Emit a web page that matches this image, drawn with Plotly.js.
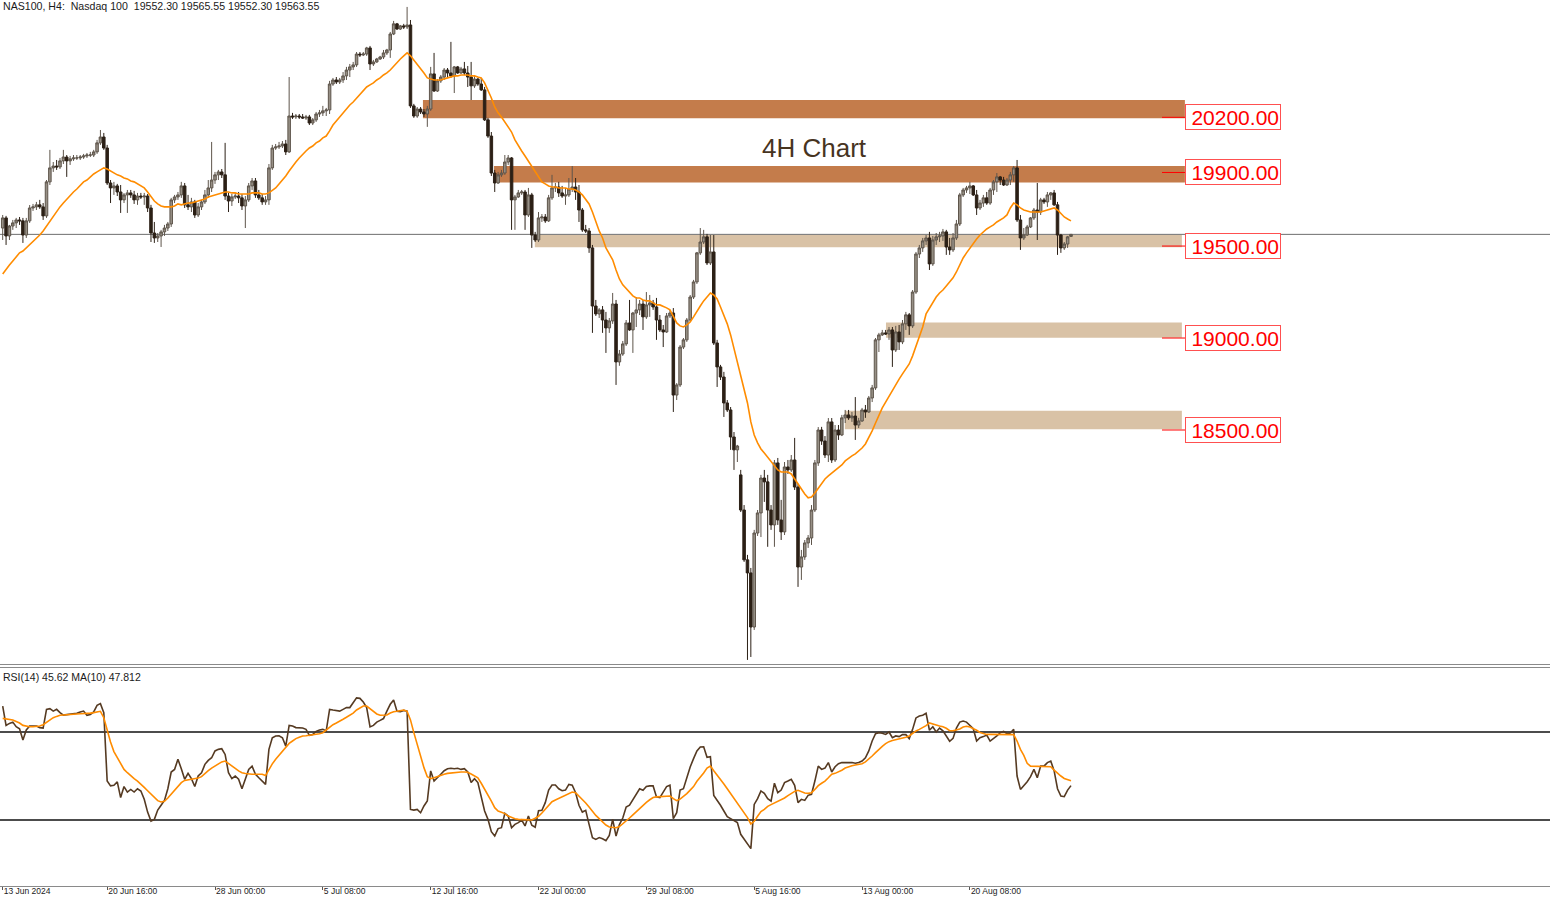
<!DOCTYPE html>
<html><head><meta charset="utf-8">
<script src="https://cdn.plot.ly/plotly-3.0.1.min.js"></script>
<style>html,body{margin:0;padding:0;background:#fff;overflow:hidden}#chart{width:1550px;height:897px}</style>
</head><body><div id="chart"></div>
<script>
// ---- NAS100 H4 candles (bar 0 = 13 Jun 2024) ----
const open=[19598,19653,19555,19609,19626,19642,19637,19560,19637,19707,
19713,19724,19713,19664,19849,19925,19935,19930,19963,19984,
19963,19974,19979,19979,19984,19990,19995,19995,20012,20061,
20093,20033,19843,19816,19827,19794,19751,19778,19789,19778,
19751,19772,19767,19772,19707,19571,19544,19555,19577,19598,
19620,19751,19767,19778,19827,19724,19713,19740,19669,19713,
19740,19778,19816,19859,19887,19903,19887,19772,19745,19767,
19772,19762,19718,19751,19827,19854,19778,19762,19740,19751,
19925,20033,20039,20044,20055,20012,20207,20202,20207,20202,
20196,20202,20169,20186,20218,20224,20235,20240,20381,20403,
20392,20403,20425,20457,20474,20485,20544,20539,20544,20577,
20490,20501,20517,20528,20550,20566,20653,20708,20680,20697,
20691,20702,20262,20207,20245,20229,20218,20245,20436,20343,
20398,20419,20457,20441,20425,20474,20441,20463,20441,20419,
20371,20408,20381,20349,20186,20098,19897,19843,19887,19897,
19957,19979,19751,19767,19789,19794,19669,19778,19560,19533,
19653,19658,19637,19762,19816,19821,19789,19772,19778,19810,
19821,19794,19696,19588,19582,19490,19174,19131,19153,19098,
19055,19093,19185,18870,18913,18968,19082,19044,19136,19153,
19185,19115,19180,19191,19169,19098,19044,19033,19120,19136,
18690,18745,18951,18990,19098,19223,19305,19463,19522,19550,
19408,19468,18973,18843,18788,18647,18609,18462,18392,18256,
18065,17794,17723,17429,17940,18049,18239,18218,18065,17984,
18321,18011,17946,18299,18283,18337,18190,17755,17810,17886,
17913,18065,18321,18500,18440,18364,18544,18337,18500,18473,
18566,18582,18566,18576,18527,18549,18609,18598,18674,18729,
18990,19017,19028,19022,19044,18935,19033,18979,19077,19126,
19066,19250,19457,19490,19528,19544,19403,19533,19550,19555,
19577,19495,19479,19544,19620,19778,19805,19816,19827,19778,
19707,19734,19762,19734,19805,19849,19876,19859,19832,19859,
19887,19925,19642,19544,19560,19604,19653,19696,19685,19751,
19740,19778,19789,19724,19560,19490,19511,19552.30];
const high=[19669,19664,19615,19642,19653,19658,19653,19653,19723,19729,
19740,19751,19734,19859,20023,19957,19968,19979,20023,19995,
19990,19995,19995,19995,20001,20006,20012,20023,20077,20131,
20115,20050,19859,19849,19838,19832,19788,19805,19805,19800,
19789,19789,19789,19783,19724,19631,19571,19588,19615,19631,
19762,19778,19794,19849,19843,19778,19762,19751,19734,19751,
19805,19859,20066,19903,19914,19919,20061,19789,19783,19789,
19794,19783,19772,19843,19870,19870,19805,19783,19772,19946,
20050,20055,20066,20071,20077,20419,20224,20218,20218,20218,
20213,20213,20196,20229,20240,20262,20251,20398,20414,20419,
20414,20446,20474,20490,20501,20555,20555,20555,20583,20588,
20512,20523,20534,20566,20572,20664,20724,20713,20702,20708,
20800,20729,20273,20256,20256,20245,20262,20474,20550,20408,
20430,20468,20468,20610,20479,20479,20474,20501,20479,20501,
20425,20414,20414,20365,20197,20120,19914,19903,19914,19995,
19995,19984,19778,19805,19805,19805,19816,19789,19577,19685,
19674,19674,19778,19887,19843,19849,19827,19816,19870,19935,
19870,19832,19707,19615,19598,19506,19207,19163,19174,19142,
19109,19245,19207,18935,18984,19098,19207,19142,19223,19207,
19207,19250,19234,19207,19218,19125,19071,19136,19153,19163,
18755,18962,19000,19109,19234,19316,19468,19598,19588,19566,
19560,19560,18990,18854,18816,18663,18625,18489,18419,18283,
18092,17821,17750,17957,18065,18256,18283,18256,18092,18337,
18348,18120,18326,18337,18364,18457,18207,17848,17902,17929,
18092,18337,18516,18517,18467,18565,18565,18527,18527,18582,
18609,18609,18598,18679,18566,18620,18636,18685,18745,19000,
19028,19044,19044,19060,19060,19066,19071,19098,19142,19136,
19261,19468,19506,19544,19560,19577,19555,19571,19577,19593,
19588,19544,19571,19642,19789,19816,19827,19849,19832,19805,
19751,19778,19794,19816,19859,19897,19881,19876,19870,19903,
19935,19968,19669,19598,19615,19658,19707,19843,19762,19762,
19794,19794,19805,19740,19566,19522,19555,19565.55];
const low=[19533,19506,19533,19588,19598,19615,19517,19544,19626,19691,
19696,19702,19642,19653,19832,19903,19914,19919,19946,19876,
19941,19963,19968,19968,19974,19979,19984,19984,20001,20050,
20023,19832,19734,19778,19772,19680,19734,19680,19762,19729,
19724,19756,19724,19685,19522,19517,19522,19495,19555,19582,
19604,19734,19751,19762,19707,19696,19685,19653,19658,19696,
19729,19762,19794,19838,19859,19870,19751,19685,19718,19756,
19734,19696,19598,19740,19805,19762,19751,19724,19724,19724,
19914,20023,20028,20033,19995,20006,20191,20191,20191,20191,
20186,20158,20158,20175,20202,20207,20207,20218,20371,20381,
20381,20387,20403,20419,20457,20474,20528,20533,20534,20457,
20479,20496,20512,20517,20539,20523,20647,20675,20675,20680,
20680,20251,20197,20197,20218,20202,20148,20235,20338,20338,
20387,20403,20419,20414,20332,20436,20436,20430,20365,20294,
20360,20371,20343,20180,20088,19881,19794,19838,19876,19887,
19941,19588,19588,19762,19778,19588,19658,19490,19522,19522,
19631,19626,19631,19751,19794,19767,19762,19724,19767,19794,
19751,19631,19577,19571,19463,19028,19120,19109,19028,18919,
19028,19077,18745,18849,18903,18957,19039,18919,19060,19125,
19044,19104,19115,19153,18990,19033,18951,19028,19109,18598,
18663,18734,18940,18979,19087,19212,19294,19452,19511,19397,
19397,18962,18734,18772,18571,18598,18392,18283,18326,18054,
17783,17250,17266,17413,17924,17918,18109,17865,17957,17865,
17984,17902,17929,18261,18272,18174,17647,17685,17794,17859,
17875,18054,18305,18419,18348,18326,18321,18326,18446,18467,
18538,18555,18544,18446,18511,18544,18566,18593,18652,18718,
18924,19011,19017,18990,18843,18924,18935,18967,19044,19017,
19055,19240,19435,19468,19506,19370,19392,19506,19522,19528,
19452,19452,19468,19533,19609,19767,19789,19783,19772,19669,
19696,19713,19724,19724,19778,19794,19832,19827,19827,19832,
19849,19631,19479,19533,19555,19598,19642,19533,19669,19729,
19713,19751,19718,19452,19463,19479,19490,19552.30];
const close=[19653,19555,19609,19626,19642,19637,19560,19637,19707,19713,
19724,19713,19664,19849,19925,19935,19930,19963,19984,19963,
19974,19979,19979,19984,19990,19995,19995,20012,20061,20093,
20033,19843,19816,19827,19794,19751,19778,19789,19778,19751,
19772,19767,19772,19707,19571,19544,19555,19577,19598,19620,
19751,19767,19778,19827,19724,19713,19740,19669,19713,19740,
19778,19816,19859,19887,19903,19887,19772,19745,19767,19772,
19762,19718,19751,19827,19854,19778,19762,19740,19751,19925,
20033,20039,20044,20055,20012,20207,20202,20207,20202,20196,
20202,20169,20186,20218,20224,20235,20240,20381,20403,20392,
20403,20425,20457,20474,20485,20544,20539,20544,20577,20490,
20501,20517,20528,20550,20566,20653,20708,20680,20697,20691,
20702,20262,20207,20245,20229,20218,20245,20436,20343,20398,
20419,20457,20441,20425,20474,20441,20463,20441,20419,20371,
20408,20381,20349,20186,20098,19897,19843,19887,19897,19957,
19979,19751,19767,19789,19794,19669,19778,19560,19533,19653,
19658,19637,19762,19816,19821,19789,19772,19778,19810,19821,
19794,19696,19588,19582,19490,19174,19131,19153,19098,19055,
19093,19185,18870,18913,18968,19082,19044,19136,19153,19185,
19115,19180,19191,19169,19098,19044,19033,19120,19136,18690,
18745,18951,18990,19098,19223,19305,19463,19522,19550,19408,
19468,18973,18843,18788,18647,18609,18462,18392,18413,18065,
17794,17723,17429,17940,18049,18239,18218,18065,17984,18321,
18011,17946,18299,18283,18337,18190,17755,17810,17886,17913,
18065,18321,18500,18440,18364,18544,18337,18500,18473,18566,
18582,18566,18576,18527,18549,18609,18598,18674,18729,18990,
19017,19028,19022,19044,18935,19033,18979,19077,19126,19066,
19250,19457,19490,19528,19544,19403,19533,19550,19555,19577,
19495,19479,19544,19620,19778,19805,19816,19827,19778,19707,
19734,19762,19734,19805,19849,19876,19859,19832,19859,19887,
19925,19642,19544,19560,19604,19653,19696,19685,19751,19740,
19778,19789,19724,19560,19490,19511,19550,19563.55];
// price moving average (orange)
const priceMA=[19348,19376,19397,19419,19441,19463,19473,19490,19506,19528,
19544,19560,19582,19609,19637,19664,19691,19713,19734,19756,
19778,19794,19810,19832,19849,19859,19876,19892,19903,19914,
19925,19919,19908,19897,19887,19881,19870,19865,19854,19849,
19838,19827,19816,19794,19767,19745,19729,19718,19713,19713,
19713,19718,19729,19724,19729,19734,19734,19740,19745,19751,
19756,19767,19772,19778,19783,19789,19794,19794,19789,19789,
19783,19783,19783,19783,19789,19789,19789,19783,19783,19789,
19805,19816,19838,19859,19881,19908,19935,19957,19979,20001,
20017,20033,20044,20061,20071,20088,20098,20126,20158,20180,
20202,20224,20245,20267,20283,20305,20327,20349,20365,20376,
20387,20403,20414,20430,20441,20457,20479,20496,20517,20534,
20550,20534,20512,20490,20468,20441,20414,20409,20403,20403,
20403,20409,20414,20419,20425,20425,20430,20430,20430,20425,
20425,20419,20414,20387,20349,20305,20256,20224,20202,20175,
20148,20120,20077,20044,20017,19990,19963,19935,19903,19876,
19849,19838,19827,19821,19821,19816,19816,19816,19810,19810,
19805,19794,19778,19756,19729,19685,19631,19582,19544,19490,
19457,19425,19370,19321,19289,19267,19245,19229,19218,19218,
19207,19202,19202,19191,19180,19180,19174,19164,19153,19115,
19082,19066,19060,19071,19087,19115,19147,19174,19202,19223,
19245,19234,19212,19169,19126,19077,19017,18946,18875,18799,
18718,18647,18544,18473,18430,18397,18375,18353,18326,18305,
18283,18272,18272,18272,18261,18234,18201,18180,18152,18131,
18136,18158,18185,18207,18234,18250,18266,18283,18294,18310,
18332,18348,18359,18370,18386,18402,18424,18457,18495,18538,
18582,18620,18652,18685,18718,18745,18777,18805,18832,18859,
18903,18956,19000,19060,19131,19164,19196,19223,19245,19261,
19283,19305,19327,19359,19397,19435,19463,19490,19517,19538,
19560,19577,19593,19604,19615,19631,19642,19653,19669,19707,
19734,19724,19707,19696,19691,19685,19685,19685,19685,19691,
19696,19702,19707,19696,19675,19658,19647,19637];
// RSI(14) and its MA(10)
const rsi=[81.8,73.0,73.9,74.5,72.4,71.5,66.4,70.9,72.7,72.7,
72.7,72.0,71.8,80.3,80.6,79.5,80.3,78.8,77.7,77.9,
78.0,78.3,78.5,79.1,79.5,77.6,78.0,79.1,82.1,82.9,
78.8,47.7,45.5,45.8,47.3,40.2,45.2,42.7,43.9,42.7,
44.2,43.2,39.4,33.6,29.5,30.3,34.5,36.7,38.9,44.2,
51.8,53.0,57.6,53.3,48.5,51.2,48.8,45.2,50.0,51.5,
55.3,57.1,58.3,61.4,62.1,62.4,59.8,51.5,48.8,50.0,
48.5,44.2,48.8,53.0,54.5,50.8,49.2,47.7,46.2,62.1,
67.4,68.2,68.3,67.4,63.6,73.0,72.7,72.0,72.0,71.8,
71.2,68.5,68.9,70.3,70.9,71.2,70.5,80.3,80.0,79.7,
79.5,80.3,81.1,81.1,83.6,85.5,85.3,83.6,81.1,72.3,
73.0,74.5,75.3,76.1,79.5,82.6,84.5,79.4,79.2,79.8,
79.5,34.8,34.5,34.8,33.3,36.4,38.6,52.3,47.7,49.5,
50.8,52.4,53.3,53.5,53.3,53.5,53.0,53.3,51.8,47.0,
48.8,47.0,40.2,34.1,30.3,24.7,22.7,26.1,26.5,33.0,
31.8,26.5,28.0,28.8,30.0,27.3,31.8,27.6,26.7,34.2,
34.4,37.9,43.6,45.9,45.9,44.2,43.3,43.6,46.2,45.8,
42.4,36.7,33.6,34.4,28.0,22.0,21.2,22.0,21.5,20.6,
23.0,30.3,22.7,27.9,30.9,35.9,36.7,39.4,41.7,44.2,
43.5,45.2,45.5,45.5,40.5,40.2,42.7,45.2,45.8,30.6,
33.3,43.6,44.2,49.2,54.1,57.9,61.4,63.2,63.3,58.5,
58.8,41.2,39.1,36.7,34.1,31.5,30.6,29.8,28.8,23.5,
21.2,18.9,17.0,37.1,39.7,43.2,42.1,39.7,38.6,46.7,
42.4,43.6,47.0,47.7,48.5,45.8,37.9,39.4,38.9,41.2,
41.7,47.7,54.5,53.0,53.6,56.1,51.8,54.2,55.6,56.1,
56.1,56.2,56.1,55.8,56.1,56.8,58.3,61.4,65.9,69.2,
69.7,69.4,68.9,70.0,67.4,68.2,67.9,68.8,68.8,67.0,
71.2,76.4,77.3,77.6,78.5,70.8,72.4,70.0,71.8,70.5,
67.9,65.8,67.1,71.8,74.5,75.0,74.5,73.0,71.5,65.9,
67.4,67.9,68.6,65.9,67.0,68.2,69.7,70.3,69.2,69.5,
71.2,50.0,43.9,45.5,47.4,49.7,53.0,49.2,54.5,54.5,
56.1,56.8,52.3,44.2,40.9,40.6,43.6,45.62];
const rsiMA=[76.2,75.9,75.6,75.5,74.8,74.1,73.0,72.6,72.4,72.4,
72.6,72.7,73.3,74.4,75.5,76.5,77.1,77.6,77.7,77.9,
78.0,78.2,78.2,78.3,78.3,78.5,78.6,78.8,79.2,79.4,
76.5,70.9,65.5,61.1,58.2,55.6,53.0,51.5,50.0,48.8,
47.7,46.4,44.8,43.3,41.8,40.0,38.8,38.2,38.5,40.0,
41.8,43.8,45.6,47.0,48.0,48.2,48.5,48.6,49.1,49.7,
51.2,52.4,53.6,54.5,55.6,56.4,56.8,55.8,54.5,53.5,
52.3,51.5,51.1,50.8,50.8,50.8,50.8,50.8,50.2,53.0,
55.5,57.6,59.5,61.4,63.3,64.8,65.9,67.0,67.6,68.2,
68.3,68.5,68.6,68.9,69.2,69.7,70.9,72.4,73.3,74.1,
74.8,75.8,76.7,77.6,78.6,80.0,80.9,81.8,81.8,80.5,
79.2,78.2,77.6,77.6,77.7,78.6,79.2,79.4,79.7,80.0,
79.4,75.5,69.7,64.4,58.6,53.8,49.7,48.8,49.2,49.8,
50.3,50.8,51.2,51.4,51.5,51.7,51.8,51.8,51.7,50.9,
50.2,49.2,46.7,44.2,41.7,38.6,35.6,34.1,33.5,32.9,
31.8,31.1,30.6,30.3,30.3,30.3,30.2,30.0,30.8,31.7,
33.2,34.8,36.8,38.3,39.1,39.8,40.5,41.2,42.0,42.7,
42.4,40.9,39.4,37.7,35.9,33.9,32.1,30.6,28.9,27.7,
26.8,26.5,26.5,27.0,28.2,29.4,30.9,32.3,33.8,35.2,
36.7,38.0,39.2,40.2,40.5,40.6,40.8,40.9,40.9,39.7,
38.8,39.5,40.6,42.0,43.6,45.2,47.6,49.4,51.4,53.6,
54.5,52.4,50.5,48.6,46.4,44.2,42.1,39.8,37.4,35.5,
33.3,31.1,28.2,29.4,31.7,33.8,34.8,36.2,37.0,37.7,
38.3,39.1,40.0,41.1,42.0,43.0,43.5,42.9,42.3,42.1,
42.4,43.9,45.6,46.7,47.7,49.2,50.8,51.2,51.8,52.6,
53.6,54.2,54.7,55.0,55.2,55.6,56.4,57.6,59.1,60.6,
62.3,63.5,64.7,65.6,66.1,66.4,66.7,67.0,67.6,68.2,
69.4,70.5,71.2,72.0,72.9,74.1,73.8,73.2,72.7,72.4,
71.7,70.6,70.6,70.9,71.4,72.3,72.6,72.3,71.7,70.8,
69.8,69.4,68.9,68.9,68.9,68.9,68.9,68.9,68.9,68.9,
68.8,65.9,62.1,59.4,55.8,54.5,54.5,54.5,54.5,54.5,
54.5,54.2,52.7,51.2,50.0,48.9,48.2,47.812];
// time axis labels (bar index -> label)
const tickIdx=[0,31,63,95,127,159,191,223,255,287];
const tickText=["13 Jun 2024","20 Jun 16:00","28 Jun 00:00","5 Jul 08:00","12 Jul 16:00","22 Jul 00:00","29 Jul 08:00","5 Aug 16:00","13 Aug 00:00","20 Aug 08:00"];
// support / resistance zones
const zoneLevel=[20200,19900,19500,19000,18500];
const zoneLow=[20195,19845,19493,19002,18504];
const zoneHigh=[20294,19935,19560,19084,18605];
const zoneStart=[124.7,145.8,157.9,262.1,249.9];
const zoneEnd=[350.8,350.8,349.9,349.9,349.9];
const zoneColor=["#c47c4b","#c47c4b","#d9c2a6","#d9c2a6","#d9c2a6"];
const lastPrice=19563.55;
const rsiLevels=[70,30];

const idx=close.map((_,i)=>i);
const FONT='Liberation Sans, Arial, sans-serif';

const traces=[
 {type:'candlestick',x:idx,open:open,high:high,low:low,close:close,xaxis:'x',yaxis:'y',
  whiskerwidth:0,
  increasing:{line:{color:'#5e554b',width:1},fillcolor:'#979086'},
  decreasing:{line:{color:'#2c2016',width:1},fillcolor:'#2c2016'},
  hoverinfo:'skip',showlegend:false},
 {type:'scatter',mode:'lines',x:idx,y:priceMA,xaxis:'x',yaxis:'y',line:{color:'#ff8c00',width:1.6},hoverinfo:'skip'},
 {type:'scatter',mode:'lines',x:idx,y:rsi,xaxis:'x',yaxis:'y2',line:{color:'#553a22',width:1.6},hoverinfo:'skip'},
 {type:'scatter',mode:'lines',x:idx,y:rsiMA,xaxis:'x',yaxis:'y2',line:{color:'#ff8c00',width:1.6},hoverinfo:'skip'}
];

const shapes=[];
zoneLevel.forEach((lv,k)=>{
  shapes.push({type:'rect',xref:'x',yref:'y',x0:zoneStart[k],x1:zoneEnd[k],y0:zoneLow[k],y1:zoneHigh[k],
    fillcolor:zoneColor[k],line:{width:0},layer:'below'});
});
shapes.push({type:'line',xref:'paper',yref:'y',x0:0,x1:1,y0:lastPrice,y1:lastPrice,line:{color:'#6e6e6e',width:1},layer:'below'});
zoneLevel.forEach(lv=>{
  shapes.push({type:'line',xref:'paper',yref:'y',x0:1162/1550,x1:1185/1550,y0:lv,y1:lv,line:{color:'#ff0000',width:1},layer:'above'});
});
rsiLevels.forEach(lv=>{
  shapes.push({type:'line',xref:'paper',yref:'y2',x0:0,x1:1,y0:lv,y1:lv,line:{color:'#111111',width:1.6},layer:'below'});
});
shapes.push({type:'line',xref:'paper',yref:'paper',x0:0,x1:1,y0:1-664.5/886,y1:1-664.5/886,line:{color:'#8a8a8a',width:1}});
shapes.push({type:'line',xref:'paper',yref:'paper',x0:0,x1:1,y0:1-667.5/886,y1:1-667.5/886,line:{color:'#8a8a8a',width:1}});

const annotations=[];
zoneLevel.forEach(lv=>{
  annotations.push({xref:'paper',x:1185/1550,xanchor:'left',yref:'y',y:lv,yanchor:'middle',
    text:lv.toFixed(2),showarrow:false,align:'right',width:92,height:22,
    font:{family:FONT,size:21,color:'#ff0000'},bgcolor:'#ffffff',bordercolor:'#ff5050',borderwidth:1,borderpad:1});
});
annotations.push({xref:'paper',x:815/1550,xanchor:'center',yref:'paper',y:1-148/886,yanchor:'middle',
  text:'4H Chart',showarrow:false,font:{family:FONT,size:26,color:'#47341f'}});
annotations.push({xref:'paper',x:0,xanchor:'left',xshift:2,yref:'paper',y:1-6.5/886,yanchor:'middle',borderpad:0,
  text:'NAS100, H4:  Nasdaq 100  19552.30 19565.55 19552.30 19563.55',showarrow:false,font:{family:FONT,size:10.6,color:'#1a1a1a'}});
annotations.push({xref:'paper',x:0,xanchor:'left',xshift:2,yref:'paper',y:1-676.5/886,yanchor:'middle',borderpad:0,
  text:'RSI(14) 45.62 MA(10) 47.812',showarrow:false,font:{family:FONT,size:10.5,color:'#1a1a1a'}});

const layout={
  width:1550,height:897,margin:{l:0,r:0,t:0,b:11,pad:0},
  paper_bgcolor:'#ffffff',plot_bgcolor:'#ffffff',showlegend:false,
  boxgap:0.25,boxgroupgap:0,
  xaxis:{domain:[0,1],range:[-0.801,459.14],anchor:'y2',showgrid:false,zeroline:false,
    showline:true,linecolor:'#8a8a8a',linewidth:1,
    tickmode:'array',tickvals:tickIdx,ticktext:tickText,ticks:'outside',ticklen:3,tickcolor:'#555',tickwidth:1,
    ticklabelposition:'outside right',ticklabelstandoff:-3,tickfont:{family:FONT,size:8.5,color:'#222'},
    rangeslider:{visible:false},fixedrange:true},
  yaxis:{domain:[1-665/886,1],range:[17222.4,20837.7],showgrid:false,zeroline:false,showticklabels:false,ticks:'',showline:false,fixedrange:true},
  yaxis2:{domain:[0,220/886],range:[0,100],showgrid:false,zeroline:false,showticklabels:false,ticks:'',showline:false,fixedrange:true},
  shapes:shapes,annotations:annotations
};
Plotly.newPlot('chart',traces,layout,{staticPlot:true,displayModeBar:false});
</script></body></html>
